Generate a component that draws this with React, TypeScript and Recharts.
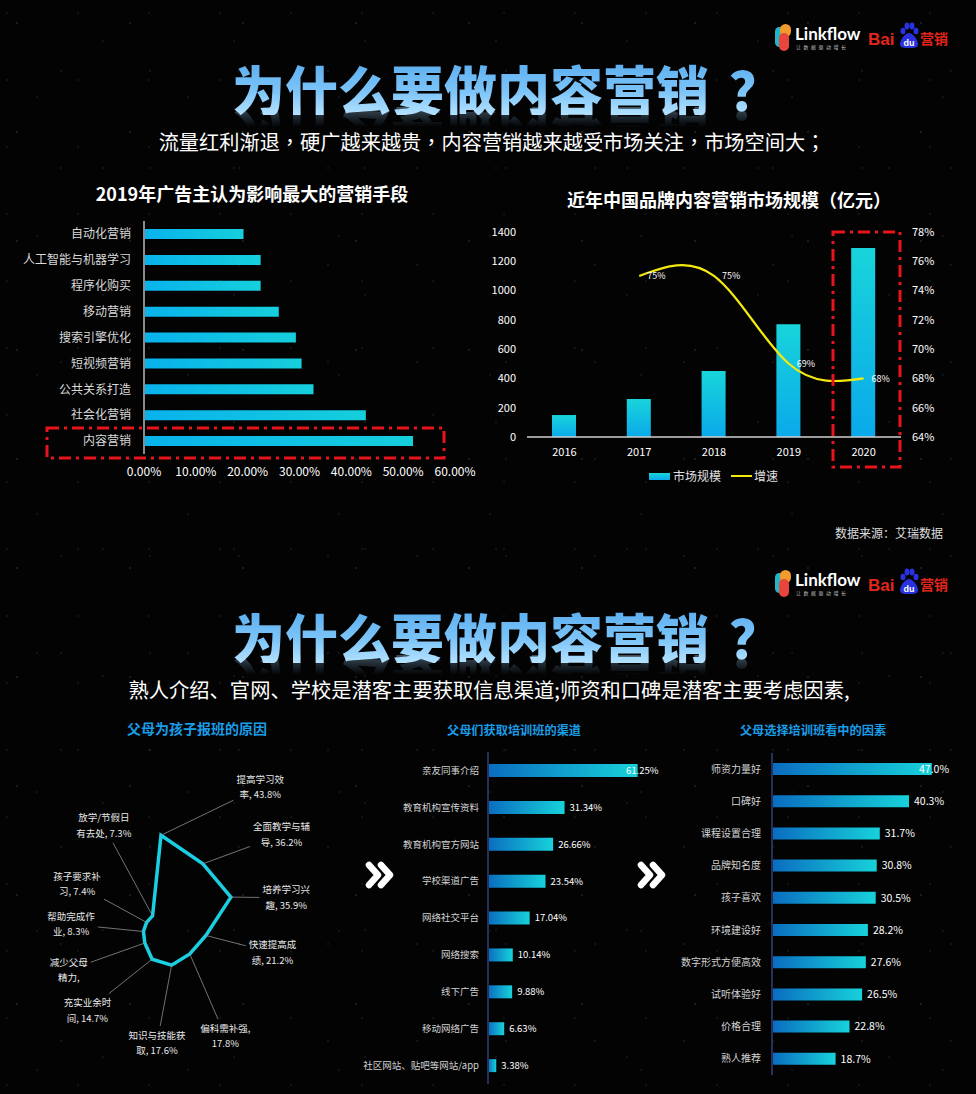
import React from 'react';
import {
  BarChart, Bar, XAxis, YAxis, ComposedChart, Line, LabelList,
  RadarChart, Radar, PolarAngleAxis, PolarRadiusAxis,
} from 'recharts';

const FONT = '"Noto Sans CJK SC", "Noto Sans", sans-serif';

// 2019 advertisers: most influential marketing tactics
const TACTICS = ['自动化营销', '人工智能与机器学习', '程序化购买', '移动营销', '搜索引擎优化', '短视频营销', '公共关系打造', '社会化营销', '内容营销'];
const TACTIC_SHARE = [19.2, 22.5, 22.5, 26.0, 29.3, 30.4, 32.7, 42.8, 51.9];
const TACTIC_TICKS = [0, 10, 20, 30, 40, 50, 60];

// content marketing market size (亿元) and growth
const YEARS = ['2016', '2017', '2018', '2019', '2020'];
const MARKET_SIZE = [150, 260, 450, 770, 1290];
const GROWTH = [null, 75, 75, 69, 68];
const SIZE_TICKS = [0, 200, 400, 600, 800, 1000, 1200, 1400];
const GROWTH_TICKS = [64, 66, 68, 70, 72, 74, 76, 78];

// why parents sign kids up
const REASONS = ['提高学习效率', '全面教学与辅导', '培养学习兴趣', '快速提高成绩', '偏科需补强', '知识与技能获取', '充实业余时间', '减少父母精力', '帮助完成作业', '孩子要求补习', '放学/节假日有去处'];
const REASON_SHARE = [43.8, 36.2, 35.9, 21.2, 17.8, 17.6, 14.7, 10.0, 8.3, 7.4, 7.3];
const REASON_NO_FIGURE = ['减少父母精力'];

// channels
const CHANNELS = ['亲友同事介绍', '教育机构宣传资料', '教育机构官方网站', '学校渠道广告', '网络社交平台', '网络搜索', '线下广告', '移动网络广告', '社区网站、贴吧等网站/app'];
const CHANNEL_SHARE = [61.25, 31.34, 26.66, 23.54, 17.04, 10.14, 9.88, 6.63, 3.38];

// deciding factors
const FACTORS = ['师资力量好', '口碑好', '课程设置合理', '品牌知名度', '孩子喜欢', '环境建设好', '数字形式方便高效', '试听体验好', '价格合理', '熟人推荐'];
const FACTOR_SHARE = [47.0, 40.3, 31.7, 30.8, 30.5, 28.2, 27.6, 26.5, 22.8, 18.7];

// radar label placement (polar, around the radar centre) and line breaks
const RADAR_CX = 161;
const RADAR_CY = 189;
const LABEL_ANGLE = [35, 52, 76, 102, 149, 182, 222, 246, 273, 298, 331];
const LABEL_DIST = [173, 153, 129, 114, 125, 114, 110, 101, 90, 95, 118];
const LABEL_BREAK = [5, 6, 5, 5, 6, 6, 5, 4, 5, 5, 6];

const STARS = [
  'radial-gradient(1px 1px at 17px 23px, rgba(255,255,255,0.32), transparent)',
  'radial-gradient(1px 1px at 61px 71px, rgba(190,210,255,0.28), transparent)',
  'radial-gradient(1px 1px at 103px 41px, rgba(255,255,255,0.22), transparent)',
  'radial-gradient(1px 1px at 37px 97px, rgba(160,200,255,0.25), transparent)',
  'radial-gradient(1px 1px at 7px 13px, rgba(255,255,255,0.2), transparent)',
].join(',');

const textWidth = (s: string, size: number) =>
  [...s].reduce((w, ch) => w + (ch.charCodeAt(0) > 255 ? size : size * 0.55), 0);

// full-width punctuation drawn centred, as in the source slide
function centredPunct(s: string) {
  return [...s].map((ch, i) =>
    '，；'.includes(ch)
      ? <span key={i} style={{ fontFamily: '"Noto Sans CJK TC", sans-serif' }}>{ch}</span>
      : ch,
  );
}

function Caption({ top, cx, size, color = '#fff', weight = 400, children, style }: any) {
  return (
    <div style={{
      position: 'absolute', top, left: cx - 400, width: 800, textAlign: 'center',
      fontSize: size, lineHeight: 1, color, fontWeight: weight, whiteSpace: 'nowrap', ...style,
    }}>
      {children}
    </div>
  );
}

function Logos({ top }: { top: number }) {
  return (
    <div style={{ position: 'absolute', left: 775, top, width: 180, height: 30 }}>
      <svg width={17} height={27} style={{ position: 'absolute', left: 0, top: 2 }}>
        <rect x={0} y={3} width={9} height={20} rx={4.5} fill="#25b4c6" />
        <rect x={5} y={0} width={11} height={13} rx={5.5} fill="#f39a2e" />
        <rect x={4} y={9} width={10} height={18} rx={5} fill="#e9453d" />
      </svg>
      <div style={{ position: 'absolute', left: 20, top: 4, height: 16, fontSize: 17, fontWeight: 700, lineHeight: '16px', fontFamily: 'Lato, "Noto Sans", sans-serif', color: '#fff' }}>
        Linkflow
      </div>
      <div style={{ position: 'absolute', left: 21, top: 22, fontSize: 5, lineHeight: 1, color: '#bbb', letterSpacing: 2.5, whiteSpace: 'nowrap' }}>
        让数据驱动增长
      </div>
      <div style={{ position: 'absolute', left: 93, top: 9, fontSize: 17, fontWeight: 700, lineHeight: 1, fontFamily: '"Liberation Sans", Arial, sans-serif', color: '#e1251b' }}>
        Bai
      </div>
      <svg width={20} height={27} style={{ position: 'absolute', left: 124, top: 0 }}>
        <ellipse cx={4} cy={9} rx={2.5} ry={3.2} fill="#2932e1" />
        <ellipse cx={8} cy={4} rx={2.5} ry={3.4} fill="#2932e1" />
        <ellipse cx={13} cy={4} rx={2.5} ry={3.4} fill="#2932e1" />
        <ellipse cx={17} cy={9} rx={2.5} ry={3.2} fill="#2932e1" />
        <path d="M10 11 C14 11 19 18 19 22 C19 26 15 26 10 26 C5 26 1 26 1 22 C1 18 6 11 10 11 Z" fill="#2932e1" />
        <text x={10} y={23.5} textAnchor="middle" fontSize={9} fontWeight={700} fill="#fff" fontFamily="Arial, sans-serif">du</text>
      </svg>
      <div style={{ position: 'absolute', left: 145, top: 9, fontSize: 14, fontWeight: 700, lineHeight: 1, color: '#e1251b' }}>
        营销
      </div>
    </div>
  );
}

function Headline({ top, text }: { top: number; text: string }) {
  const glyph = {
    fontSize: 53, fontWeight: 800,
    background: 'linear-gradient(180deg, #5caef0 0%, #7cc4f8 55%, #b4e2ff 100%)',
    WebkitBackgroundClip: 'text', backgroundClip: 'text', color: 'transparent',
    WebkitBoxReflect: 'below -8px linear-gradient(transparent 62%, rgba(255,255,255,0.35))',
    display: 'inline-block',
  } as any;
  return (
    <div style={{ position: 'absolute', top, left: 19, width: 976, textAlign: 'center', lineHeight: 1, whiteSpace: 'nowrap' }}>
      <span style={glyph}>{text}</span>
      <span style={{ ...glyph, marginLeft: 20 }}>？</span>
    </div>
  );
}

function TacticChart() {
  const data = TACTICS.map((name, i) => ({ name, share: TACTIC_SHARE[i] }));
  return (
    <div style={{ position: 'absolute', left: 0, top: 210 }}>
      <BarChart width={480} height={275} data={data} layout="vertical" margin={{ top: 11, right: 25, bottom: 9, left: 8 }}>
        <defs>
          <linearGradient id="tacticFill" x1="0" y1="0" x2="1" y2="0">
            <stop offset="0%" stopColor="#08b2ec" />
            <stop offset="100%" stopColor="#16cfdc" />
          </linearGradient>
        </defs>
        <XAxis type="number" domain={[0, 60]} ticks={TACTIC_TICKS} tickFormatter={(v: number) => `${v.toFixed(2)}%`}
          axisLine={false} tickLine={false} tickMargin={7} height={22} tick={{ fill: '#fff', fontSize: 12 }} />
        <YAxis type="category" dataKey="name" width={136} interval={0} tickLine={false} tickMargin={7}
          axisLine={{ stroke: '#8a8a8a', strokeWidth: 2 }} tick={{ fill: '#d9d9d9', fontSize: 12 }} />
        <Bar dataKey="share" fill="url(#tacticFill)" barSize={10} isAnimationActive={false} />
      </BarChart>
    </div>
  );
}

function MarketChart() {
  const rows = YEARS.map((year, i) => ({ year, size: MARKET_SIZE[i], growth: GROWTH[i] }));
  return (
    <div style={{ position: 'absolute', left: 480, top: 220 }}>
      <ComposedChart width={496} height={250} data={rows} margin={{ top: 12, right: 15, bottom: 3, left: 0 }}>
        <defs>
          <linearGradient id="sizeFill" x1="0" y1="0" x2="0" y2="1">
            <stop offset="0%" stopColor="#18d4da" />
            <stop offset="100%" stopColor="#0aa9ea" />
          </linearGradient>
        </defs>
        <XAxis dataKey="year" height={30} tickLine={false} tickMargin={5}
          axisLine={{ stroke: '#d0d0d0', strokeWidth: 1.5 }} tick={{ fill: '#fff', fontSize: 11 }} />
        <YAxis yAxisId="size" domain={[0, 1400]} ticks={SIZE_TICKS} width={47} axisLine={false} tickLine={false}
          tickMargin={5} tick={{ fill: '#fff', fontSize: 11 }} />
        <YAxis yAxisId="growth" orientation="right" domain={[64, 78]} ticks={GROWTH_TICKS} width={60}
          tickFormatter={(v: number) => `${v}%`} axisLine={false} tickLine={false} tickMargin={5}
          tick={{ fill: '#fff', fontSize: 11 }} />
        <Bar yAxisId="size" dataKey="size" barSize={24} fill="url(#sizeFill)" isAnimationActive={false} />
        <Line yAxisId="growth" dataKey="growth" type="natural" stroke="#f3e80f" strokeWidth={2.2}
          dot={false} activeDot={false} isAnimationActive={false}>
          <LabelList dataKey="growth" position="right" offset={8} fill="#fff" fontSize={9}
            formatter={(v: any) => (v == null ? '' : `${v}%`)} />
        </Line>
      </ComposedChart>
    </div>
  );
}

function ReasonLabel(props: any) {
  const { cx, cy, index } = props;
  const name = REASONS[index];
  const text = REASON_NO_FIGURE.includes(name) ? `${name},` : `${name}, ${REASON_SHARE[index]}%`;
  const brk = LABEL_BREAK[index];
  const lines = [text.slice(0, brk), text.slice(brk).trim()];
  const a = (LABEL_ANGLE[index] * Math.PI) / 180;
  const lx = RADAR_CX + LABEL_DIST[index] * Math.sin(a);
  const ly = RADAR_CY - LABEL_DIST[index] * Math.cos(a);
  const halfW = Math.max(...lines.map((l) => textWidth(l, 9.5))) / 2 + 3;
  const halfH = 17;
  const dx = cx - lx;
  const dy = cy - ly;
  const t = Math.min(halfW / Math.max(Math.abs(dx), 1e-6), halfH / Math.max(Math.abs(dy), 1e-6));
  return (
    <g key={`reason-${index}`}>
      <line x1={cx} y1={cy} x2={lx + dx * t} y2={ly + dy * t} stroke="#8f8f8f" strokeWidth={0.8} />
      <text textAnchor="middle" fill="#e8e8e8" fontSize={9.5}>
        <tspan x={lx} y={ly - 4.4}>{lines[0]}</tspan>
        <tspan x={lx} y={ly + 11}>{lines[1]}</tspan>
      </text>
    </g>
  );
}

function ReasonRadar() {
  const rows = REASONS.map((reason, i) => ({ reason, share: REASON_SHARE[i] }));
  return (
    <div style={{ position: 'absolute', left: 0, top: 740 }}>
      <RadarChart width={340} height={354} data={rows} cx={RADAR_CX} cy={RADAR_CY} outerRadius={107}
        margin={{ top: 0, right: 0, bottom: 0, left: 0 }}>
        <PolarAngleAxis dataKey="reason" tick={false} axisLine={false} tickLine={false} />
        <PolarRadiusAxis domain={[0, 50]} tick={false} axisLine={false} tickLine={false} />
        <Radar dataKey="share" stroke="#1bcfe2" strokeWidth={3.5} fill="none" fillOpacity={0}
          dot={ReasonLabel} isAnimationActive={false} />
      </RadarChart>
    </div>
  );
}

function endLabel(decimals: number, size: number, limit: number) {
  return function EndLabel(props: any) {
    const box = props.viewBox ?? props;
    const x = Math.min(box.x + box.width + 5, limit);
    return (
      <text x={x} y={box.y + box.height / 2} dy="0.36em" fill="#fff" fontSize={size}>
        {`${Number(props.value).toFixed(decimals)}%`}
      </text>
    );
  };
}

function ShareBars({ id, names, values, left, top, width, height, right, axisWidth, tickMargin, maxValue, barSize, tickSize, labelSize, decimals, labelLimit }: any) {
  const data = names.map((name: string, i: number) => ({ name, share: values[i] }));
  return (
    <div style={{ position: 'absolute', left, top }}>
      <BarChart width={width} height={height} data={data} layout="vertical" margin={{ top: 8, right, bottom: 2, left: 0 }}>
        <defs>
          <linearGradient id={id} x1="0" y1="0" x2="1" y2="0">
            <stop offset="0%" stopColor="#0a6cc0" />
            <stop offset="100%" stopColor="#17d2da" />
          </linearGradient>
        </defs>
        <XAxis type="number" domain={[0, maxValue]} hide />
        <YAxis type="category" dataKey="name" width={axisWidth} interval={0} tickLine={false} tickMargin={tickMargin}
          axisLine={{ stroke: '#26305a', strokeWidth: 2 }} tick={{ fill: '#d2d2d2', fontSize: tickSize }} />
        <Bar dataKey="share" fill={`url(#${id})`} barSize={barSize} isAnimationActive={false}>
          <LabelList dataKey="share" content={endLabel(decimals, labelSize, labelLimit)} />
        </Bar>
      </BarChart>
    </div>
  );
}

function Chevrons({ left, top }: { left: number; top: number }) {
  return (
    <svg width={32} height={32} style={{ position: 'absolute', left, top }}>
      <path d="M5 6 L14 16 L5 26 M17 6 L26 16 L17 26" fill="none" stroke="#fff" strokeWidth={6.5}
        strokeLinecap="round" strokeLinejoin="round" />
    </svg>
  );
}

export default function App() {
  return (
    <div style={{
      position: 'relative', width: 976, height: 1094, overflow: 'hidden', fontFamily: FONT, color: '#fff',
      backgroundColor: '#030304', backgroundImage: STARS,
      backgroundSize: '113px 109px, 89px 97px, 131px 127px, 151px 139px, 71px 67px',
    }}>
      <style>{'html,body{margin:0;background:#030304}'}</style>

      <Logos top={22} />
      <Headline top={62} text="为什么要做内容营销" />
      <Caption top={132} cx={492} size={20.2}>{centredPunct('流量红利渐退，硬广越来越贵，内容营销越来越受市场关注，市场空间大；')}</Caption>

      <Caption top={184} cx={252} size={18} weight={700}>2019年广告主认为影响最大的营销手段</Caption>
      <TacticChart />

      <Caption top={190} cx={729} size={18} weight={700}>近年中国品牌内容营销市场规模（亿元）</Caption>
      <MarketChart />
      <div style={{ position: 'absolute', left: 649, top: 469, height: 14, display: 'flex', alignItems: 'center', fontSize: 12, lineHeight: 1, color: '#e0e0e0', whiteSpace: 'nowrap' }}>
        <span style={{ width: 21, height: 7, background: 'linear-gradient(180deg, #18d4da, #0aa9ea)', marginRight: 3 }} />
        <span>市场规模</span>
        <span style={{ width: 21, height: 2, background: '#f3e80f', marginLeft: 10, marginRight: 2 }} />
        <span>增速</span>
      </div>

      <div style={{ position: 'absolute', right: 33, top: 527, fontSize: 12, lineHeight: 1, color: '#ddd' }}>数据来源：艾瑞数据</div>

      <Logos top={568} />
      <Headline top={610} text="为什么要做内容营销" />
      <Caption top={679} cx={489} size={20.3}>熟人介绍、官网、学校是潜客主要获取信息渠道;师资和口碑是潜客主要考虑因素,</Caption>

      <Caption top={721} cx={197} size={14} weight={700} color="#1a9de6">父母为孩子报班的原因</Caption>
      <Caption top={724} cx={514} size={12.2} weight={700} color="#1a9de6">父母们获取培训班的渠道</Caption>
      <Caption top={724} cx={813} size={12.2} weight={700} color="#1a9de6">父母选择培训班看中的因素</Caption>

      <ReasonRadar />
      <ShareBars id="channelFill" names={CHANNELS} values={CHANNEL_SHARE} left={340} top={744} width={320} height={342}
        right={1} axisWidth={148} tickMargin={3} maxValue={70} barSize={13} tickSize={9.5} labelSize={9.5}
        decimals={2} labelLimit={286} />
      <ShareBars id="factorFill" names={FACTORS} values={FACTOR_SHARE} left={660} top={745} width={316} height={332}
        right={17} axisWidth={112} tickMargin={5} maxValue={55} barSize={12} tickSize={10} labelSize={10.5}
        decimals={1} labelLimit={259} />

      <Chevrons left={364} top={859} />
      <Chevrons left={636} top={859} />

      <svg width={976} height={1094} style={{ position: 'absolute', left: 0, top: 0, pointerEvents: 'none' }}>
        <rect x={47} y={428} width={397} height={30} fill="none" stroke="#e8141b" strokeWidth={3} strokeDasharray="12 5 3 5" />
        <rect x={833} y={232} width={67} height={235} fill="none" stroke="#e8141b" strokeWidth={3} strokeDasharray="12 5 3 5" />
      </svg>
    </div>
  );
}
